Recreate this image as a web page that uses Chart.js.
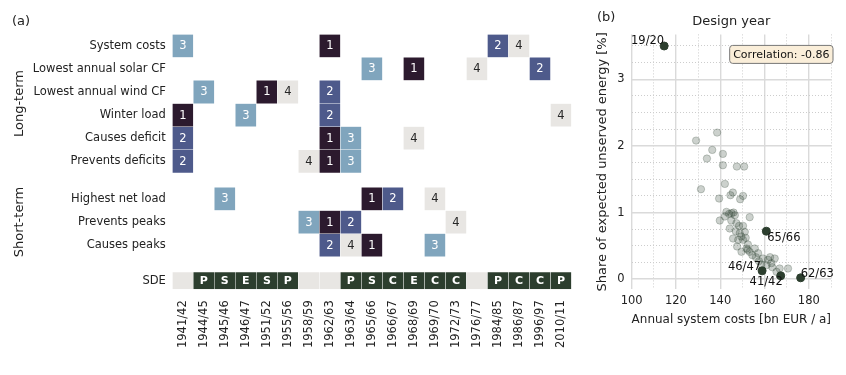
<!DOCTYPE html>
<html>
<head>
<meta charset="utf-8">
<script src="https://cdn.jsdelivr.net/npm/chart.js@4.4.1/dist/chart.umd.min.js"></script>
<style>
  body { margin: 0; background: #fff; }
  #wrap { position: relative; width: 846px; height: 375px; }
  #heat { position: absolute; left: 0; top: 0; }
  #scatter { position: absolute; left: 590px; top: 0; }
</style>
</head>
<body>
<div id="wrap">
  <canvas id="heat" width="590" height="375"></canvas>
  <canvas id="scatter" width="256" height="375"></canvas>
</div>
<script>
// ---- panel (a) data ----
const years = ['1941/42', '1944/45', '1945/46', '1946/47', '1951/52', '1955/56', '1958/59', '1962/63',
    '1963/64', '1965/66', '1966/67', '1968/69', '1969/70', '1972/73', '1976/77', '1984/85',
    '1986/87', '1996/97', '2010/11'];
const rowLabels = ['System costs', 'Lowest annual solar CF', 'Lowest annual wind CF', 'Winter load',
    'Causes deficit', 'Prevents deficits', 'Highest net load', 'Prevents peaks', 'Causes peaks', 'SDE'];

// rank per year (0 = not ranked)
const systemCosts      = [3,0,0,0,0,0,0,1,0,0,0,0,0,0,0,2,4,0,0];
const solarCF          = [0,0,0,0,0,0,0,0,0,3,0,1,0,0,4,0,0,2,0];
const windCF           = [0,3,0,0,1,4,0,2,0,0,0,0,0,0,0,0,0,0,0];
const winterLoad       = [1,0,0,3,0,0,0,2,0,0,0,0,0,0,0,0,0,0,4];
const causesDeficit    = [2,0,0,0,0,0,0,1,3,0,0,4,0,0,0,0,0,0,0];
const preventsDeficits = [2,0,0,0,0,0,4,1,3,0,0,0,0,0,0,0,0,0,0];
const highestNetLoad   = [0,0,3,0,0,0,0,0,0,1,2,0,4,0,0,0,0,0,0];
const preventsPeaks    = [0,0,0,0,0,0,3,1,2,0,0,0,0,4,0,0,0,0,0];
const causesPeaks      = [0,0,0,0,0,0,0,2,4,1,0,0,3,0,0,0,0,0,0];
const sdeLetters       = ['','P','S','E','S','P','','','P','S','C','E','C','C','','P','C','C','P'];

// ---- panel (b) data ----
const costGrey = [138.6, 129.1, 136.4, 141.2, 134.0, 141.2, 147.5, 150.8, 142.1, 131.3,
    145.7, 144.6, 150.3, 149.0, 139.5, 142.8, 145.1, 146.6, 142.1, 139.8,
    153.3, 147.3, 148.5, 150.3, 144.3, 148.8, 151.1, 145.8, 148.1, 150.3,
    151.9, 153.3, 155.6, 149.6, 157.1, 159.3, 161.6, 163.1, 164.6, 160.9,
    166.8, 170.6, 165.4, 156.1, 147.6, 152.3, 144.0, 146.0, 147.0, 149.5,
    152.5, 154.5, 162.5, 163.5, 157.5, 145.0, 151.5, 158.5];
const unservedGrey = [2.20, 2.08, 1.94, 1.88, 1.81, 1.71, 1.69, 1.69, 1.43, 1.35,
    1.30, 1.26, 1.25, 1.20, 1.21, 1.01, 0.99, 0.96, 0.94, 0.88,
    0.93, 0.84, 0.80, 0.80, 0.76, 0.69, 0.71, 0.61, 0.59, 0.59,
    0.46, 0.41, 0.46, 0.41, 0.39, 0.31, 0.29, 0.24, 0.31, 0.21,
    0.16, 0.16, 0.11, 0.33, 0.49, 0.44, 0.98, 1.00, 0.72, 0.64,
    0.52, 0.36, 0.33, 0.18, 0.27, 0.88, 0.62, 0.22];
const highlightNames = ['19/20', '65/66', '46/47', '41/42', '62/63'];
const highlightCost = [114.7, 160.8, 158.9, 167.3, 176.3];
const highlightUnserved = [3.50, 0.72, 0.125, 0.05, 0.02];
const correlation = -0.86;

// ---- styling ----
const FONT = "'DejaVu Sans', sans-serif";
const TXT = '#222';
const rankColors = {1: '#2c1a2e', 2: '#4e5a8b', 3: '#80a5bd', 4: '#e8e6e3'};
const sdeColor = '#2c3e2e';
const emptyColor = '#e8e6e3';

// vertical row positions on the heatmap axis
const rowPos = [0, 1, 2, 3, 4, 5, 6.63, 7.63, 8.63, 10.17];
const rankRows = [systemCosts, solarCF, windCF, winterLoad, causesDeficit, preventsDeficits,
    highestNetLoad, preventsPeaks, causesPeaks];

const heatSets = rankRows.map((row, r) => ({
    data: row.map(v => v ? [rowPos[r] - 0.5, rowPos[r] + 0.5] : null),
    backgroundColor: row.map(v => rankColors[v] || 'transparent'),
    ranks: row
}));
heatSets.push({
    data: sdeLetters.map(() => [rowPos[9] - 0.37, rowPos[9] + 0.37]),
    backgroundColor: sdeLetters.map(s => s ? sdeColor : emptyColor),
    letters: sdeLetters
});
heatSets.forEach(ds => {
    ds.grouped = false;
    ds.barPercentage = 1;
    ds.categoryPercentage = 1;
    ds.borderWidth = 0.5;
    ds.borderColor = 'rgba(255,255,255,0.7)';
    ds.borderSkipped = false;
});

// text inside cells + group labels
const cellText = {
    id: 'cellText',
    afterDatasetsDraw(chart) {
        const ctx = chart.ctx;
        ctx.save();
        ctx.textAlign = 'center';
        ctx.textBaseline = 'middle';
        chart.data.datasets.forEach((ds, i) => {
            chart.getDatasetMeta(i).data.forEach((bar, j) => {
                let txt = ds.ranks ? ds.ranks[j] : ds.letters[j];
                if (!txt) return;
                const p = bar.getProps(['x', 'y', 'base'], true);
                if (ds.ranks) {
                    ctx.font = '11.5px ' + FONT;
                    ctx.fillStyle = txt === 4 ? '#262626' : '#fff';
                } else {
                    ctx.font = 'bold 11px ' + FONT;
                    ctx.fillStyle = '#fff';
                }
                ctx.fillText(String(txt), p.x, (p.y + p.base) / 2 + 0.5);
            });
        });
        ctx.restore();

        const y = chart.scales.y;
        ctx.save();
        ctx.fillStyle = TXT;
        ctx.font = '13px ' + FONT;
        ctx.textBaseline = 'middle';
        ctx.textAlign = 'left';
        ctx.fillText('(a)', 12, 22);
        ctx.textAlign = 'center';
        [['Long-term', y.getPixelForValue(2.5)], ['Short-term', y.getPixelForValue(rowPos[7])]].forEach(([t, py]) => {
            ctx.save();
            ctx.translate(20, py);
            ctx.rotate(-Math.PI / 2);
            ctx.fillText(t, 0, 0);
            ctx.restore();
        });
        ctx.restore();
    }
};

new Chart(document.getElementById('heat'), {
    type: 'bar',
    data: {labels: years, datasets: heatSets},
    options: {
        responsive: false,
        animation: false,
        events: [],
        layout: {padding: {top: 34.25, right: 18.5, left: 0, bottom: 0}},
        plugins: {legend: {display: false}, tooltip: {enabled: false}},
        scales: {
            x: {
                grid: {display: false, drawTicks: false},
                border: {display: false},
                afterFit: s => { s.height = 85.7; },
                ticks: {
                    minRotation: 90, maxRotation: 90, autoSkip: false, padding: 11,
                    color: TXT, font: {family: FONT, size: 11.5}
                }
            },
            y: {
                type: 'linear',
                reverse: true,
                min: -0.5,
                max: 10.54,
                grid: {display: false, drawTicks: false},
                border: {display: false},
                afterFit: s => { s.width = 172.3; },
                afterBuildTicks: s => { s.ticks = rowPos.map(v => ({value: v})); },
                ticks: {
                    autoSkip: false, padding: 6.5,
                    color: TXT, font: {family: FONT, size: 11.5},
                    callback: (v, i) => rowLabels[i]
                }
            }
        }
    },
    plugins: [cellText]
});

// ---- panel (b) ----
const isMajorX = v => Math.abs(v % 20) < 1e-6;
const isMajorY = v => Math.abs(v - Math.round(v)) < 1e-6;

const scatterNotes = {
    id: 'scatterNotes',
    afterDatasetsDraw(chart) {
        const ctx = chart.ctx;
        const pts = chart.getDatasetMeta(1).data;
        ctx.save();
        ctx.fillStyle = '#111';
        ctx.font = '11.5px ' + FONT;
        // label placement: [align, baseline, dx, dy]
        const place = [
            ['right', 'alphabetic', 0, -2],
            ['left', 'top', 1, 1],
            ['right', 'alphabetic', -1, -1],
            ['right', 'top', 2, 0],
            ['left', 'alphabetic', 0, -1]
        ];
        pts.forEach((p, i) => {
            const [al, bl, dx, dy] = place[i];
            ctx.textAlign = al;
            ctx.textBaseline = bl;
            ctx.fillText(highlightNames[i], p.x + dx, p.y + dy);
        });

        // correlation box
        const a = chart.chartArea;
        const txt = 'Correlation: ' + correlation.toFixed(2);
        ctx.font = '11px ' + FONT;
        const w = ctx.measureText(txt).width + 7;
        const h = 18;
        const bx = a.right + 2 - w, by = a.top + 11, r = 3;
        ctx.beginPath();
        ctx.moveTo(bx + r, by);
        ctx.arcTo(bx + w, by, bx + w, by + h, r);
        ctx.arcTo(bx + w, by + h, bx, by + h, r);
        ctx.arcTo(bx, by + h, bx, by, r);
        ctx.arcTo(bx, by, bx + w, by, r);
        ctx.closePath();
        ctx.fillStyle = '#faeed9';
        ctx.fill();
        ctx.strokeStyle = '#777';
        ctx.lineWidth = 1;
        ctx.stroke();
        ctx.fillStyle = '#111';
        ctx.textAlign = 'center';
        ctx.textBaseline = 'middle';
        ctx.fillText(txt, bx + w / 2, by + h / 2 + 0.5);

        ctx.font = '13px ' + FONT;
        ctx.textAlign = 'left';
        ctx.fillStyle = TXT;
        ctx.fillText('(b)', 7, 18);
        ctx.restore();
    }
};

new Chart(document.getElementById('scatter'), {
    type: 'scatter',
    data: {
        datasets: [
            {
                data: costGrey.map((c, i) => ({x: c, y: unservedGrey[i]})),
                backgroundColor: 'rgba(43,61,46,0.24)',
                borderColor: 'rgba(43,61,46,0.24)',
                borderWidth: 1,
                pointRadius: 3.7
            },
            {
                data: highlightCost.map((c, i) => ({x: c, y: highlightUnserved[i]})),
                backgroundColor: sdeColor,
                borderColor: sdeColor,
                borderWidth: 1,
                pointRadius: 4
            }
        ]
    },
    options: {
        responsive: false,
        animation: false,
        events: [],
        layout: {padding: {top: 0, right: 15, left: 0, bottom: 0}},
        plugins: {
            legend: {display: false},
            tooltip: {enabled: false},
            title: {
                display: true, text: 'Design year', color: TXT, fullSize: false,
                font: {family: FONT, size: 13, weight: 'normal', lineHeight: 1.2},
                padding: {top: 13.6, bottom: 5.2}
            }
        },
        scales: {
            x: {
                type: 'linear', min: 100, max: 190,
                afterFit: s => { s.height = 85.6; },
                afterBuildTicks: s => {
                    const t = [];
                    for (let v = 100; v <= 190; v += 10) t.push({value: v});
                    s.ticks = t;
                },
                border: {display: false, dash: c => isMajorX(c.tick.value) ? [] : [1, 2]},
                grid: {
                    drawTicks: false,
                    color: c => isMajorX(c.tick.value) ? '#dadada' : '#cdcdcd',
                    lineWidth: c => isMajorX(c.tick.value) ? 1.4 : 1
                },
                ticks: {
                    autoSkip: false, maxRotation: 0, padding: 5,
                    color: TXT, font: {family: FONT, size: 11.5},
                    callback: v => isMajorX(v) ? v : ''
                },
                title: {
                    display: true, text: 'Annual system costs [bn EUR / a]', color: TXT,
                    font: {family: FONT, size: 13}, padding: {top: 0, bottom: 48}
                }
            },
            y: {
                type: 'linear', min: -0.154, max: 3.674,
                afterFit: s => { s.width = 41.6; },
                afterBuildTicks: s => {
                    const t = [];
                    for (let v = 0; v <= 3.5001; v += 0.25) t.push({value: Math.round(v * 100) / 100});
                    s.ticks = t;
                },
                border: {display: false, dash: c => isMajorY(c.tick.value) ? [] : [1, 2]},
                grid: {
                    drawTicks: false,
                    color: c => isMajorY(c.tick.value) ? '#dadada' : '#cdcdcd',
                    lineWidth: c => isMajorY(c.tick.value) ? 1.4 : 1
                },
                ticks: {
                    autoSkip: false, padding: 7,
                    color: TXT, font: {family: FONT, size: 11.5},
                    callback: v => isMajorY(v) ? v : ''
                },
                title: {
                    display: true, text: 'Share of expected unserved energy [%]', color: TXT,
                    font: {family: FONT, size: 13}, padding: {top: 5, bottom: 0}
                }
            }
        }
    },
    plugins: [scatterNotes]
});
</script>
</body>
</html>
